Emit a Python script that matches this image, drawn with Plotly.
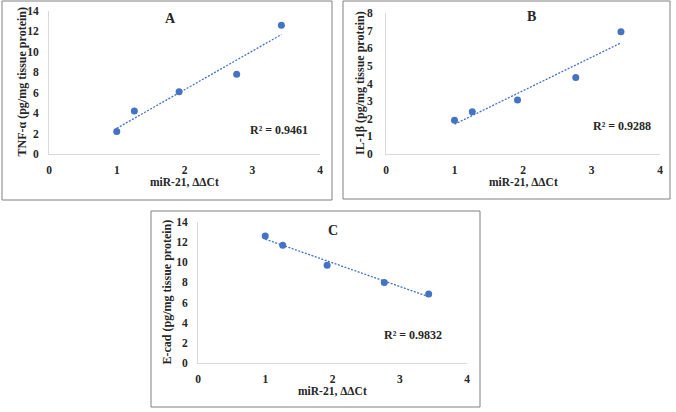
import numpy as np
import plotly.graph_objects as go

# ---- data ----
mir21_ddct = [1.0, 1.26, 1.92, 2.77, 3.43]
tnf_alpha = [2.2, 4.2, 6.1, 7.8, 12.6]
il_1b = [1.92, 2.4, 3.06, 4.34, 6.94]
e_cad = [12.6, 11.7, 9.7, 8.0, 6.85]
r2_labels = ["R² = 0.9461", "R² = 0.9288", "R² = 0.9832"]
panel_letters = ["A", "B", "C"]
y_titles = ["TNF-α (pg/mg tissue protein)", "IL-1β (pg/mg tissue protein)",
            "E-cad (pg/mg tissue protein)"]
x_title = "miR-21, ΔΔCt"
x_ticks = [0, 1, 2, 3, 4]
y_ticks_A = [0, 2, 4, 6, 8, 10, 12, 14]
y_ticks_B = [0, 1, 2, 3, 4, 5, 6, 7, 8]
y_ticks_C = [0, 2, 4, 6, 8, 10, 12, 14]

W, H = 676, 412
BLUE = "#4472C4"
FONT = "Liberation Serif"
TXT = "#262626"


def px(x):
    return x / W


def py(y):
    return 1 - y / H


fig = go.Figure()

panels = [
    dict(y=tnf_alpha, yt=y_ticks_A, s="", box=(49, 320, 11, 154), r2=(3.39, 2.38), let=(1.8, 13.3),
         border=(2, 332, 1, 200), ytx=22, sto=7),
    dict(y=il_1b, yt=y_ticks_B, s="2", box=(386, 660, 13, 154), r2=(3.45, 1.58), let=(2.12, 7.8),
         border=(343, 670, 1, 199), ytx=360.5, sto=10),
    dict(y=e_cad, yt=y_ticks_C, s="3", box=(198, 467, 222, 363), r2=(3.19, 2.8), let=(2.0, 13.2),
         border=(151, 480, 211, 407), ytx=166, sto=7),
]

layout = dict(
    width=W, height=H, margin=dict(l=0, r=0, t=0, b=0, pad=0, autoexpand=False),
    paper_bgcolor="white", plot_bgcolor="white", showlegend=False,
    font=dict(family=FONT, color=TXT),
    shapes=[], annotations=[],
)

for i, p in enumerate(panels):
    s = p["s"]
    xa, ya = "x" + s, "y" + s
    ys = p["y"]
    m, b = np.polyfit(mir21_ddct, ys, 1)
    xs = [min(mir21_ddct), max(mir21_ddct)]
    fig.add_trace(go.Scatter(x=xs, y=[m * v + b for v in xs], mode="lines", xaxis=xa, yaxis=ya,
                             line=dict(color=BLUE, width=1.3, dash="2px,1.5px")))
    fig.add_trace(go.Scatter(x=mir21_ddct, y=ys, mode="markers", xaxis=xa, yaxis=ya,
                             marker=dict(color=BLUE, size=7)))
    l, r, t, bt = p["box"]
    ymax = p["yt"][-1]
    tf = dict(family=FONT, size=11.5, color=TXT, weight="bold")
    layout["xaxis" + s] = dict(
        domain=[px(l), px(r)], range=[0, 4], anchor=ya, tickvals=x_ticks, automargin=False,
        showgrid=False, zeroline=False, showline=True, linecolor="#d9d9d9", linewidth=1,
        ticks="", ticklabelstandoff=5, tickfont=tf, fixedrange=True,
    )
    layout["yaxis" + s] = dict(
        domain=[py(bt), py(t)], range=[0, ymax], anchor=xa, tickvals=p["yt"], automargin=False,
        showgrid=False, zeroline=False, showline=True, linecolor="#d9d9d9", linewidth=1,
        ticks="", ticklabelstandoff=p["sto"], tickfont=tf, fixedrange=True,
    )
    bl, br, btop, bbot = p["border"]
    layout["shapes"].append(dict(type="rect", xref="paper", yref="paper",
                                 x0=px(bl), x1=px(br), y0=py(bbot), y1=py(btop),
                                 line=dict(color="#808080", width=1)))
    common = dict(showarrow=False, xanchor="center", yanchor="middle")
    layout["annotations"].append(dict(text="<b>" + x_title + "</b>", xref="paper", yref="paper",
                                      x=px((l + r) / 2), y=py(bt + 28),
                                      font=dict(size=11.5, family=FONT, color=TXT), **common))
    layout["annotations"].append(dict(text="<b>" + y_titles[i] + "</b>", xref="paper", yref="paper",
                                      x=px(p["ytx"]), y=py((t + bt) / 2), textangle=-90,
                                      font=dict(size=12, family=FONT, color=TXT), **common))
    layout["annotations"].append(dict(text="<b>" + panel_letters[i] + "</b>", xref=xa, yref=ya,
                                      x=p["let"][0], y=p["let"][1],
                                      font=dict(size=14, family=FONT, color=TXT), **common))
    layout["annotations"].append(dict(text="<b>" + r2_labels[i] + "</b>", xref=xa, yref=ya,
                                      x=p["r2"][0], y=p["r2"][1],
                                      font=dict(size=12, family=FONT, color=TXT), **common))

fig.update_layout(**layout)
fig.write_html("out.html", config={"responsive": False, "displayModeBar": False},
               post_script="document.body.style.margin='0';document.body.style.padding='0';")
